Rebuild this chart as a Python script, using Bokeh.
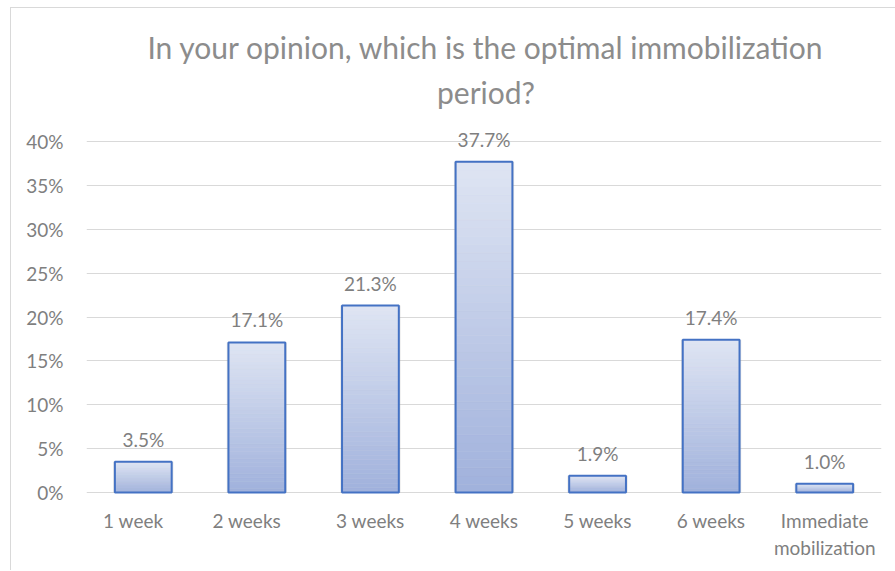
from bokeh.plotting import figure
from bokeh.models import ColumnDataSource, FixedTicker, Range1d
from bokeh.core.properties import value
from bokeh.embed import file_html
from bokeh.resources import INLINE

categories = ["1 week", "2 weeks", "3 weeks", "4 weeks", "5 weeks", "6 weeks", "Immediate mobilization"]
values = [3.5, 17.1, 21.3, 37.7, 1.9, 17.4, 1.0]
labels = ["3.5%", "17.1%", "21.3%", "37.7%", "1.9%", "17.4%", "1.0%"]
xlabel_line1 = ["1 week", "2 weeks", "3 weeks", "4 weeks", "5 weeks", "6 weeks", "Immediate"]
xlabel_line2 = ["", "", "", "", "", "", "mobilization"]
y_ticks = [0, 5, 10, 15, 20, 25, 30, 35, 40]
title_lines = ["In your opinion, which is the optimal immobilization", "period?"]

FONT = "Lato"
GRAY = "#7f7f7f"
TGRAY = "#8c8c8c"

# frame spans whole chart box; value axis 0..40 occupies the middle part
p = figure(x_range=categories, y_range=Range1d(-9.0, 55.16), width=885, height=563,
           output_backend="svg", toolbar_location=None, title=None,
           min_border_left=75, min_border_right=15, min_border_top=0, min_border_bottom=0)
p.styles = {"margin-left": "10px", "margin-top": "7px",
            "border-left": "1px solid #d9d9d9", "border-top": "1px solid #d9d9d9"}

# title (two lines)
mid = len(categories) / 2
ymax = y_ticks[-1]
p.text(x=[mid, mid], y=[ymax, ymax], text=title_lines, y_offset=[-95, -50], x_offset=[2, 2],
       text_align="center", text_baseline="middle", text_color=TGRAY,
       text_font_size="30px", text_font=value(FONT))

# soft shadow
p.vbar(x=categories, top=values, width=0.53, fill_color="#a6a6a6", fill_alpha=0.3, line_color=None)

# gradient fill built from slices of each bar
n = 40
top_c = (0xdf, 0xe5, 0xf3)
bot_c = (0xa0, 0xb1, 0xdc)
xs, bs, ts, cs = [], [], [], []
for c, v in zip(categories, values):
    for i in range(n):
        f = (i + 0.5) / n
        col = tuple(int(round(bot_c[k] + (top_c[k] - bot_c[k]) * f)) for k in range(3))
        xs.append(c)
        bs.append(v * i / n)
        ts.append(v * (i + 1) / n)
        cs.append("#%02x%02x%02x" % col)
p.vbar(x=xs, bottom=bs, top=ts, width=0.5, fill_color=cs, line_color=cs, line_width=0.5)

src = ColumnDataSource(dict(x=categories, top=values, lab=labels,
                            zero=[0] * len(categories), l1=xlabel_line1, l2=xlabel_line2,
                            dx=[-10, -10, 0, 0, 0, 0, 0]))
p.vbar(x="x", top="top", width=0.5, source=src, fill_alpha=0, line_color="#4472c4", line_width=2)
p.text(x="x", y="top", text="lab", source=src, text_align="center", text_baseline="bottom",
       y_offset=-11, text_color=GRAY, text_font_size="19px", text_font=value(FONT))

# category labels
p.text(x="x", y="zero", text="l1", source=src, text_align="center", text_baseline="middle",
       x_offset="dx", y_offset=28, text_color=GRAY, text_font_size="19px", text_font=value(FONT))
p.text(x="x", y="zero", text="l2", source=src, text_align="center", text_baseline="middle",
       y_offset=55, text_color=GRAY, text_font_size="19px", text_font=value(FONT))

p.xaxis.visible = False
p.yaxis.ticker = FixedTicker(ticks=y_ticks)
p.yaxis.major_label_overrides = {t: f"{t}%" for t in y_ticks}
p.yaxis.axis_line_color = None
p.yaxis.major_tick_line_color = None
p.yaxis.minor_tick_line_color = None
p.yaxis.major_label_text_color = GRAY
p.yaxis.major_label_text_font = FONT
p.yaxis.major_label_text_font_size = "19px"
p.yaxis.major_label_standoff = 17

p.xgrid.grid_line_color = None
p.ygrid.grid_line_color = "#d9d9d9"
p.ygrid.grid_line_width = 1
p.outline_line_color = None

open("out.html", "w").write(file_html(p, INLINE))
